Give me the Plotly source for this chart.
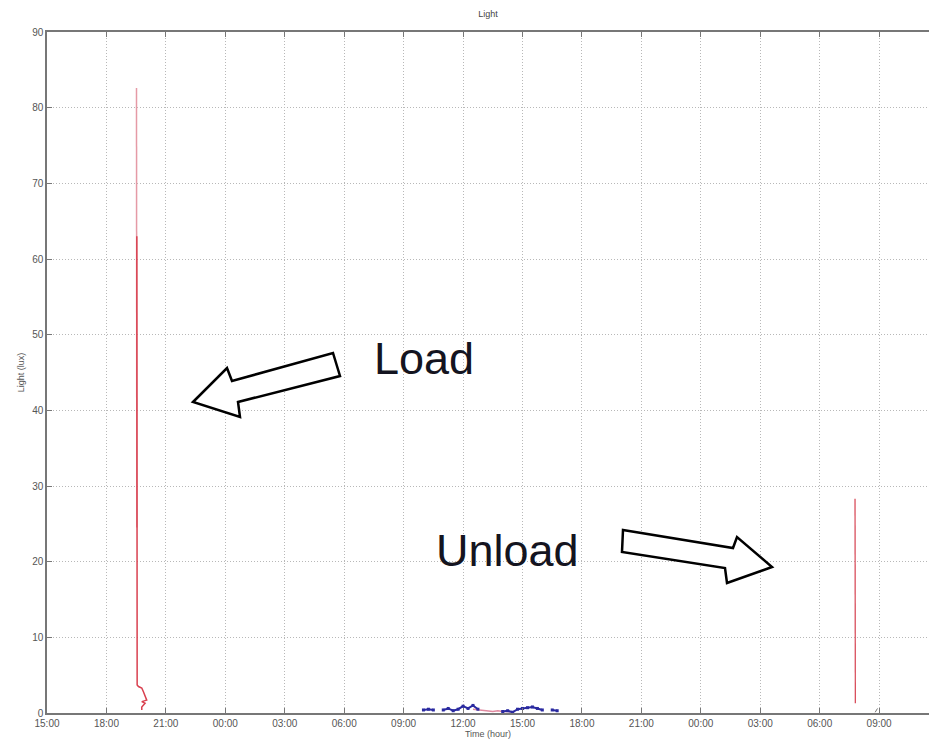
import plotly.graph_objects as go

# ---------------- data ----------------
DAY1 = "2013-01-01"
DAY2 = "2013-01-02"
DAY3 = "2013-01-03"

# "Load" spike (upper lighter part)
load_peak_time = [f"{DAY1} 19:31:00", f"{DAY1} 19:31:30", f"{DAY1} 19:32:00"]
load_peak_lux = [82.6, 63.0, 24.5]

# "Load" spike (lower, darker part and tail)
load_time = [f"{DAY1} 19:32:00", f"{DAY1} 19:32:30", f"{DAY1} 19:33:00", f"{DAY1} 19:37:00",
             f"{DAY1} 19:47:00", f"{DAY1} 19:52:00", f"{DAY1} 20:02:00", f"{DAY1} 19:47:00",
             f"{DAY1} 19:57:00", f"{DAY1} 19:47:00", f"{DAY1} 19:47:00"]
load_lux = [63.0, 24.0, 3.7, 3.5, 3.3, 2.8, 1.7, 1.5, 1.3, 0.8, 0.4]

# "Unload" spike
unload_time = [f"{DAY3} 07:47:00", f"{DAY3} 07:47:30", f"{DAY3} 07:48:00"]
unload_lux = [28.3, 12.0, 1.3]
tail_time = [f"{DAY3} 08:48:00", f"{DAY3} 08:55:00"]
tail_lux = [0.1, 0.6]

# daytime low readings (blue)
blue_clock = ["10:00", "10:15", "10:30", "10:45", "11:00", "11:15", "11:30", "11:45",
              "12:00", "12:15", "12:30", "12:45", "13:00", "13:15", "13:30", "13:45",
              "14:00", "14:15", "14:30", "14:45", "15:00", "15:15", "15:30", "15:45",
              "16:00", "16:15", "16:30", "16:45"]
blue_lux = [0.4, 0.5, 0.4, None, 0.4, 0.6, 0.3, 0.5,
            0.9, 0.6, 1.0, 0.5, None, None, None, None,
            0.2, 0.3, 0.1, 0.5, 0.6, 0.7, 0.8, 0.6,
            0.4, None, 0.4, 0.3]

# daytime low readings (pink)
pink_clock = ["12:30", "12:45", "13:00", "13:15", "13:30", "13:45", "14:00", "14:15", "14:30"]
pink_lux = [0.5, 0.4, 0.3, 0.3, 0.2, 0.3, 0.2, 0.2, 0.1]

x_range = [f"{DAY1} 15:00:00", f"{DAY3} 11:31:00"]
y_range = [0, 90]

# ---------------- figure ----------------
W, H = 929, 747
ML, MR, MT, MB = 47, 0, 32, 34
PW, PH = W - ML - MR, H - MT - MB


def px(x, y):
    return (x - ML) / PW, (H - MB - y) / PH


def poly(points):
    pts = [px(x, y) for x, y in points]
    return "M " + " L ".join(f"{a:.5f},{b:.5f}" for a, b in pts) + " Z"


fig = go.Figure()

fig.add_trace(go.Scatter(x=load_peak_time, y=load_peak_lux, mode="lines",
                         line=dict(color="#e59aa6", width=1.5), showlegend=False))
fig.add_trace(go.Scatter(x=load_time, y=load_lux, mode="lines",
                         line=dict(color="#d9404f", width=1.5), showlegend=False))
fig.add_trace(go.Scatter(x=unload_time, y=unload_lux, mode="lines",
                         line=dict(color="#d9505e", width=1.3), showlegend=False))
fig.add_trace(go.Scatter(x=tail_time, y=tail_lux, mode="lines",
                         line=dict(color="#777777", width=1), showlegend=False))
fig.add_trace(go.Scatter(x=[f"{DAY2} {c}" for c in pink_clock], y=pink_lux, mode="lines",
                         line=dict(color="#e08aa0", width=1.5), showlegend=False))
fig.add_trace(go.Scatter(x=[f"{DAY2} {c}" for c in blue_clock], y=blue_lux, mode="lines+markers",
                         line=dict(color="#2a2aa0", width=2),
                         marker=dict(color="#2a2aa0", size=3, symbol="square"),
                         showlegend=False, connectgaps=False))

# hollow arrows
load_arrow = [(193, 402), (227, 368), (232, 381), (333, 353), (340, 376), (238, 402), (240, 417)]
unload_arrow = [(623, 530), (733, 548), (737, 537), (772, 567), (727, 583), (725, 568), (622, 552)]
for pts in (load_arrow, unload_arrow):
    fig.add_shape(type="path", path=poly(pts), xref="paper", yref="paper",
                  line=dict(color="black", width=2.5), fillcolor="white", layer="above")

lx, ly = px(424, 359)
ux, uy = px(508, 550)
fig.add_annotation(x=lx, y=ly, xref="paper", yref="paper", text="Load", showarrow=False,
                   xanchor="center", yanchor="middle",
                   font=dict(family="Liberation Sans, Arial", size=45, color="#141420"))
fig.add_annotation(x=ux, y=uy, xref="paper", yref="paper", text="Unload", showarrow=False,
                   xanchor="center", yanchor="middle",
                   font=dict(family="Liberation Sans, Arial", size=45, color="#141420"))

tick_font = dict(family="Liberation Sans, Arial", size=10, color="#555555")
grid_dash = "1px,2px"

fig.update_layout(
    width=W, height=H,
    margin=dict(l=ML, r=MR, t=MT, b=MB),
    paper_bgcolor="white", plot_bgcolor="white",
    title=dict(text="Light", x=488 / W, xanchor="center", y=1 - 14 / H, yanchor="middle",
               font=dict(family="Liberation Sans, Arial", size=9, color="#444444")),
    xaxis=dict(
        type="date", range=x_range,
        tick0=f"{DAY1} 15:00:00", dtick=3 * 3600 * 1000, tickformat="%H:%M",
        showgrid=True, gridcolor="#b8b8b8", griddash=grid_dash, gridwidth=1,
        showline=True, linecolor="#777777", linewidth=1.5, mirror="ticks",
        ticks="inside", ticklen=5, tickcolor="#777777",
        tickfont=tick_font, zeroline=False,
        title=dict(text="Time (hour)", font=dict(family="Liberation Sans, Arial", size=9, color="#555555"),
                   standoff=2),
    ),
    yaxis=dict(
        range=y_range, dtick=10, tick0=0,
        showgrid=True, gridcolor="#b8b8b8", griddash=grid_dash, gridwidth=1,
        showline=True, linecolor="#777777", linewidth=1.5, mirror=False,
        ticks="inside", ticklen=5, tickcolor="#777777",
        tickfont=tick_font, zeroline=False,
        title=dict(text="Light (lux)", font=dict(family="Liberation Sans, Arial", size=9, color="#555555"),
                   standoff=6),
    ),
)

fig.write_html("out.html")
